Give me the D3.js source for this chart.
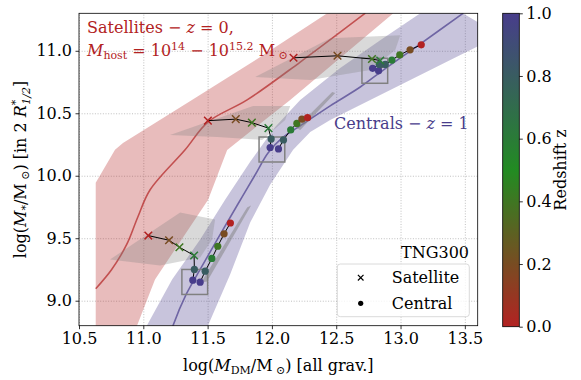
<!DOCTYPE html>
<html>
<head>
<meta charset="utf-8">
<script src="https://cdn.jsdelivr.net/npm/d3@7"></script>
<style>
body { margin: 0; background: #fff; }
svg, svg text { font-family: "DejaVu Serif", serif; }
</style>
</head>
<body>
<div id="chart"></div>
<script>
// axis ticks
var xTicks = [10.5, 11.0, 11.5, 12.0, 12.5, 13.0, 13.5];
var yTicks = [9.0, 9.5, 10.0, 10.5, 11.0];
var zTicks = [0.0, 0.2, 0.4, 0.6, 0.8, 1.0];

// satellites z=0 median relation and its scatter band
var satMedX = [10.63, 10.754, 10.871, 10.959, 11.053, 11.325, 11.504, 11.807, 12.22, 12.726];
var satMedY = [9.096, 9.25, 9.45, 9.674, 9.888, 10.208, 10.431, 10.607, 10.91, 11.301];
var satBandHi = [[10.63, 9.944], [10.78, 10.208], [10.842, 10.263], [11.375, 10.604], [11.909, 10.95], [12.43, 11.301]];
var satBandLo = [[10.63, 8.6], [10.951, 8.8], [11.091, 9.17], [11.504, 9.808], [11.652, 10.207], [12.142, 10.607], [12.944, 11.301]];

// centrals z=1 median relation and band
var cenMedX = [11.22, 11.232, 11.333, 11.442, 11.597, 11.737, 11.87, 11.971, 12.08, 12.22, 12.453, 12.687, 12.866, 13.13, 13.488];
var cenMedY = [8.763, 8.803, 9.05, 9.25, 9.529, 9.776, 10.008, 10.184, 10.303, 10.399, 10.559, 10.71, 10.846, 11.038, 11.301];
var cenBandHi = [[10.975, 8.691], [11.029, 8.803], [11.224, 9.17], [11.442, 9.489], [11.636, 9.808], [11.831, 10.112],
                 [12.025, 10.391], [12.22, 10.606], [12.531, 10.862], [12.842, 11.085], [13.154, 11.301], [13.309, 11.405]];
var cenBandLo = [[11.558, 8.691], [11.504, 8.803], [11.675, 9.21], [11.831, 9.625], [11.986, 9.928], [12.165, 10.208],
                 [12.298, 10.351], [12.453, 10.447], [12.92, 10.686], [13.387, 10.926], [13.605, 11.038], [13.776, 11.125]];

// three example haloes: satellite track and central comparison track, one point per z step
var satTrackX = [[11.385, 11.397, 11.395, 11.281, 11.2, 11.039],
                 [11.986, 11.994, 11.973, 11.844, 11.719, 11.502],
                 [12.783, 12.835, 12.842, 12.778, 12.51, 12.168]];
var satTrackY = [[9.164, 9.25, 9.362, 9.428, 9.484, 9.521],
                 [10.226, 10.295, 10.381, 10.425, 10.453, 10.441],
                 [10.86, 10.891, 10.922, 10.934, 10.96, 10.944]];
var cenTrackX = [[11.442, 11.481, 11.533, 11.579, 11.628, 11.677],
                 [12.051, 12.09, 12.146, 12.194, 12.233, 12.277],
                 [12.829, 12.881, 12.933, 12.994, 13.074, 13.161]];
var cenTrackY = [[9.148, 9.236, 9.338, 9.436, 9.535, 9.622],
                 [10.215, 10.287, 10.367, 10.419, 10.453, 10.465],
                 [10.84, 10.891, 10.926, 10.967, 11.008, 11.048]];
// the trajectories above are listed from z=1 down to z=0
var trackZ = [1.0, 0.8, 0.6, 0.4, 0.2, 0.0];
var satIsCentral = [true, true, false, false, false, false];

// selection boxes
var boxX = [11.4, 12.0, 12.8];
var boxY = [9.15, 10.21, 10.84];

// grey scatter patches around the satellite tracks
var patches = [
  [[10.741, 9.33], [11.286, 9.705], [11.558, 9.649], [11.535, 9.489], [11.442, 9.346], [11.13, 9.282]],
  [[11.208, 10.327], [11.854, 10.559], [12.142, 10.559], [12.103, 10.447], [11.924, 10.287], [11.574, 10.311]],
  [[11.87, 10.79], [12.453, 11.101], [12.998, 11.125], [12.959, 11.006], [12.765, 10.846], [12.298, 10.766]]
];
var slivers = [
  [[11.449, 9.146], [11.807, 9.745], [11.838, 9.761], [11.496, 9.154]],
  [[12.189, 10.383], [12.469, 10.67], [12.492, 10.662], [12.22, 10.367]]
];

var margin = {top: 13.3, right: 103.3, bottom: 54.3, left: 79},
    width = 581 - margin.left - margin.right,
    height = 380 - margin.top - margin.bottom;

var svg = d3.select("#chart")
  .append("svg")
    .attr("width", 581)
    .attr("height", 380)
    .style("font-family", "'DejaVu Serif', serif");

var g = svg.append("g")
    .attr("transform", "translate(" + margin.left + "," + margin.top + ")");

var x = d3.scaleLinear().domain([10.5, 13.6]).range([0, width]);
var y = d3.scaleLinear().domain([8.8, 11.3]).range([height, 0]);

var cmap = d3.scaleLinear()
  .domain([0, 0.5, 1])
  .range(["#b22222", "#228b22", "#483d8b"]);

g.append("clipPath").attr("id", "clip")
  .append("rect").attr("width", width).attr("height", height);

// grid
g.append("g")
  .attr("transform", "translate(0," + height + ")")
  .call(d3.axisBottom(x).tickValues(xTicks).tickSize(-height).tickFormat(""))
  .call(function(s) { s.select(".domain").remove(); })
  .selectAll("line").attr("stroke", "#b0b0b0").attr("stroke-width", 0.8).attr("stroke-dasharray", "1,1.65");
g.append("g")
  .call(d3.axisLeft(y).tickValues(yTicks).tickSize(-width).tickFormat(""))
  .call(function(s) { s.select(".domain").remove(); })
  .selectAll("line").attr("stroke", "#b0b0b0").attr("stroke-width", 0.8).attr("stroke-dasharray", "1,1.65");

var plot = g.append("g").attr("clip-path", "url(#clip)");

var poly = d3.line().x(function(d) { return x(d[0]); }).y(function(d) { return y(d[1]); });
var line = d3.line().x(function(d) { return x(d[0]); }).y(function(d) { return y(d[1]); }).curve(d3.curveCatmullRom);

// bands
plot.append("path")
  .attr("d", poly(satBandHi.concat(satBandLo.slice().reverse())) + "Z")
  .attr("fill", "#b22222").attr("fill-opacity", 0.3);
plot.append("path")
  .attr("d", poly(cenBandHi.concat(cenBandLo.slice().reverse())) + "Z")
  .attr("fill", "#483d8b").attr("fill-opacity", 0.3);

// median lines
plot.append("path")
  .attr("d", line(d3.zip(satMedX, satMedY)))
  .attr("fill", "none").attr("stroke", "#b22222").attr("stroke-opacity", 0.7).attr("stroke-width", 1.6);
plot.append("path")
  .attr("d", line(d3.zip(cenMedX, cenMedY)))
  .attr("fill", "none").attr("stroke", "#483d8b").attr("stroke-opacity", 0.7).attr("stroke-width", 1.6);

// grey patches
plot.selectAll(".patch")
  .data(patches)
  .enter()
  .append("path")
    .attr("d", function(d) { return poly(d) + "Z"; })
    .attr("fill", "#808080").attr("fill-opacity", 0.3);
plot.selectAll(".sliver")
  .data(slivers)
  .enter()
  .append("path")
    .attr("d", function(d) { return poly(d) + "Z"; })
    .attr("fill", "#808080").attr("fill-opacity", 0.5);

// boxes
plot.selectAll(".box")
  .data(boxX)
  .enter()
  .append("rect")
    .attr("x", function(d) { return x(d - 0.1); })
    .attr("y", function(d, i) { return y(boxY[i] + 0.1); })
    .attr("width", function(d) { return x(d + 0.1) - x(d - 0.1); })
    .attr("height", function(d, i) { return y(boxY[i] - 0.1) - y(boxY[i] + 0.1); })
    .attr("fill", "none").attr("stroke", "#808080").attr("stroke-width", 1.5);

// tracks
var cross = "M-3.8,-3.8L3.8,3.8M-3.8,3.8L3.8,-3.8";
satTrackX.forEach(function(xs, k) {
  var sat = d3.zip(xs, satTrackY[k]);
  var cen = d3.zip(cenTrackX[k], cenTrackY[k]);
  plot.append("path").attr("d", poly(sat)).attr("fill", "none").attr("stroke", "#000").attr("stroke-width", 1);
  plot.append("path").attr("d", poly(cen)).attr("fill", "none").attr("stroke", "#000").attr("stroke-width", 1);
  cen.forEach(function(p, i) {
    plot.append("circle").attr("cx", x(p[0])).attr("cy", y(p[1])).attr("r", 3.6).attr("fill", cmap(trackZ[i]));
  });
  sat.forEach(function(p, i) {
    if (satIsCentral[i]) {
      plot.append("circle").attr("cx", x(p[0])).attr("cy", y(p[1])).attr("r", 3.6).attr("fill", cmap(trackZ[i]));
    } else {
      plot.append("path").attr("d", cross)
        .attr("transform", "translate(" + x(p[0]) + "," + y(p[1]) + ")")
        .attr("stroke", cmap(trackZ[i])).attr("stroke-width", 1.5).attr("fill", "none");
    }
  });
});

// axes
var xAxis = g.append("g")
  .attr("transform", "translate(0," + height + ")")
  .call(d3.axisBottom(x).tickValues(xTicks).tickSize(3.5).tickPadding(3.5).tickFormat(d3.format(".1f")));
var yAxis = g.append("g")
  .call(d3.axisLeft(y).tickValues(yTicks).tickSize(3.5).tickPadding(3.5).tickFormat(d3.format(".1f")));
[xAxis, yAxis].forEach(function(a) {
  a.attr("font-family", null).attr("font-size", null);
  a.select(".domain").remove();
  a.selectAll("text").style("font-size", "16px").attr("fill", "#000");
  a.selectAll("line").attr("stroke", "#000").attr("stroke-width", 0.8);
});
g.append("rect").attr("width", width).attr("height", height)
  .attr("fill", "none").attr("stroke", "#000").attr("stroke-width", 0.8);

// annotation texts
var t1 = g.append("text").attr("x", 8).attr("y", 20).attr("fill", "#b22222").style("font-size", "16px");
t1.append("tspan").text("Satellites \u2212 ");
t1.append("tspan").style("font-style", "italic").text("z");
t1.append("tspan").text(" = 0,");
var t2 = g.append("text").attr("x", 8).attr("y", 43).attr("fill", "#b22222").style("font-size", "16px");
t2.append("tspan").style("font-style", "italic").text("M");
t2.append("tspan").attr("dy", 3).style("font-size", "11px").text("host");
t2.append("tspan").attr("dy", -3).text(" = 10");
t2.append("tspan").attr("dy", -6).style("font-size", "11px").text("14");
t2.append("tspan").attr("dy", 6).text(" \u2212 10");
t2.append("tspan").attr("dy", -6).style("font-size", "11px").text("15.2");
t2.append("tspan").attr("dy", 6).text(" M");
t2.append("tspan").attr("dy", 3).style("font-size", "11px").text(" \u2299");

var t3 = g.append("text").attr("x", 255).attr("y", 116).attr("fill", "#483d8b").style("font-size", "16px");
t3.append("tspan").text("Centrals \u2212 ");
t3.append("tspan").style("font-style", "italic").text("z");
t3.append("tspan").text(" = 1");

// legend
g.append("text").attr("x", 390).attr("y", 245).attr("text-anchor", "end").style("font-size", "16px").text("TNG300");
g.append("rect").attr("x", 258.3).attr("y", 250.7).attr("width", 132).attr("height", 52.7)
  .attr("rx", 3).attr("fill", "#fff").attr("fill-opacity", 0.8).attr("stroke", "#d0d0d0").attr("stroke-width", 0.8);
g.append("path").attr("d", "M-2.8,-2.8L2.8,2.8M-2.8,2.8L2.8,-2.8")
  .attr("transform", "translate(281.7,264.4)").attr("stroke", "#000").attr("stroke-width", 1.2);
g.append("circle").attr("cx", 281.7).attr("cy", 290).attr("r", 2.6).attr("fill", "#000");
g.append("text").attr("x", 312.7).attr("y", 270).style("font-size", "16px").text("Satellite");
g.append("text").attr("x", 312.7).attr("y", 295.5).style("font-size", "16px").text("Central");

// axis labels
var xl = svg.append("text").attr("x", margin.left + width / 2).attr("y", 371)
  .attr("text-anchor", "middle").style("font-size", "16px");
xl.append("tspan").text("log(");
xl.append("tspan").style("font-style", "italic").text("M");
xl.append("tspan").attr("dy", 3).style("font-size", "11px").text("DM");
xl.append("tspan").attr("dy", -3).text("/M");
xl.append("tspan").attr("dy", 3).style("font-size", "11px").text(" \u2299");
xl.append("tspan").attr("dy", -3).text(") [all grav.]");

var yl = svg.append("text")
  .attr("transform", "translate(26," + (margin.top + height / 2) + ") rotate(-90)")
  .attr("text-anchor", "middle").style("font-size", "16px");
yl.append("tspan").text("log(");
yl.append("tspan").style("font-style", "italic").text("M");
yl.append("tspan").attr("dy", 3).style("font-size", "11px").text("*");
yl.append("tspan").attr("dy", -3).text("/M");
yl.append("tspan").attr("dy", 3).style("font-size", "11px").text(" \u2299");
yl.append("tspan").attr("dy", -3).text(") [in 2 ");
yl.append("tspan").style("font-style", "italic").text("R");
yl.append("tspan").attr("dy", -7).style("font-size", "11px").text("*");
yl.append("tspan").attr("dx", -5).attr("dy", 11).style("font-size", "11px").style("font-style", "italic").text("1/2");
yl.append("tspan").attr("dy", -4).text("]");

// colorbar
var cbX = 502.7, cbW = 16.6, cbTop = 13.3, cbH = 313.4;
var defs = svg.append("defs");
var grad = defs.append("linearGradient").attr("id", "zgrad")
  .attr("x1", 0).attr("y1", 1).attr("x2", 0).attr("y2", 0);
d3.range(0, 1.0001, 0.05).forEach(function(t) {
  grad.append("stop").attr("offset", t).attr("stop-color", cmap(t));
});
svg.append("rect").attr("x", cbX).attr("y", cbTop).attr("width", cbW).attr("height", cbH)
  .attr("fill", "url(#zgrad)").attr("stroke", "#000").attr("stroke-width", 0.8);
var zScale = d3.scaleLinear().domain([0, 1]).range([cbTop + cbH, cbTop]);
var cbAxis = svg.append("g").attr("transform", "translate(" + (cbX + cbW) + ",0)")
  .call(d3.axisRight(zScale).tickValues(zTicks).tickSize(3.5).tickPadding(3.5).tickFormat(d3.format(".1f")));
cbAxis.attr("font-family", null).attr("font-size", null);
cbAxis.select(".domain").remove();
cbAxis.selectAll("text").style("font-size", "16px").attr("fill", "#000");
cbAxis.selectAll("line").attr("stroke", "#000").attr("stroke-width", 0.8);
svg.append("text")
  .attr("transform", "translate(566," + (cbTop + cbH / 2) + ") rotate(-90)")
  .attr("text-anchor", "middle").style("font-size", "16px").text("Redshift z");
</script>
</body>
</html>
